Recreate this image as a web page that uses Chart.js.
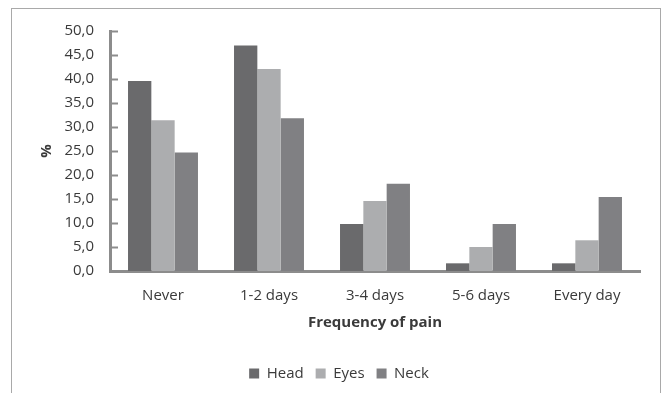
<!DOCTYPE html>
<html>
<head>
<meta charset="utf-8">
<script src="https://cdn.jsdelivr.net/npm/chart.js@4/dist/chart.umd.min.js"></script>
<style>
  html, body { margin: 0; padding: 0; background: #fff; overflow: hidden; }
  #frame {
    position: absolute; left: 11px; top: 8px; width: 648px; height: 420px;
    border: 1.5px solid #a9a9a9; border-bottom: none;
  }
  #wrap { position: absolute; left: 0; top: 0; width: 664px; height: 393px; }
</style>
</head>
<body>
<div id="frame"></div>
<div id="wrap"><canvas id="chart" width="664" height="393"></canvas></div>
<script>
// data
const categories = ['Never', '1-2 days', '3-4 days', '5-6 days', 'Every day'];
const head = [39.6, 47.0, 9.8, 1.6, 1.6];
const eyes = [31.4, 42.1, 14.6, 5.0, 6.4];
const neck = [24.7, 31.8, 18.2, 9.8, 15.4];
const yTicks = [0, 5, 10, 15, 20, 25, 30, 35, 40, 45, 50];

const axisColor = '#8c8c8c';
const textColor = '#3a3a3a';
const fontFamily = "'Open Sans', 'DejaVu Sans', sans-serif";

// small tick marks drawn inward from the y axis line
const innerTicks = {
  id: 'innerTicks',
  afterDraw(chart) {
    const c = chart.ctx, y = chart.scales.y, left = chart.chartArea.left;
    c.save();
    c.strokeStyle = axisColor;
    c.lineWidth = 2;
    yTicks.forEach(v => {
      const py = Math.round(y.getPixelForValue(v)) + 0.5;
      c.beginPath();
      c.moveTo(left, py);
      c.lineTo(left + 8, py);
      c.stroke();
    });
    c.restore();
  }
};

new Chart(document.getElementById('chart'), {
  type: 'bar',
  data: {
    labels: categories,
    datasets: [
      { label: 'Head', data: head, backgroundColor: '#6a6a6c' },
      { label: 'Eyes', data: eyes, backgroundColor: '#acadaf' },
      { label: 'Neck', data: neck, backgroundColor: '#808083' }
    ]
  },
  options: {
    responsive: false,
    animation: false,
    layout: { padding: { left: 38, right: 24, top: 31, bottom: 2 } },
    datasets: { bar: { barPercentage: 1.0, categoryPercentage: 0.66 } },
    plugins: {
      tooltip: { enabled: false },
      legend: {
        position: 'bottom',
        labels: {
          boxWidth: 10, boxHeight: 10, padding: 12,
          color: textColor,
          font: { family: fontFamily, size: 15 }
        }
      }
    },
    scales: {
      x: {
        grid: { display: false, drawTicks: false },
        border: { color: axisColor, width: 3 },
        ticks: { color: textColor, padding: 16, font: { family: fontFamily, size: 15 } },
        title: {
          display: true, text: 'Frequency of pain', color: textColor,
          font: { family: fontFamily, size: 15, weight: 'bold' },
          padding: { top: -7, bottom: 22 }
        }
      },
      y: {
        min: 0, max: 50,
        afterFit(scale) { scale.width = 72; },
        afterBuildTicks(scale) { scale.ticks = yTicks.map(v => ({ value: v })); },
        grid: { display: false, drawTicks: false },
        border: { color: axisColor, width: 3 },
        ticks: {
          color: textColor, padding: 16,
          font: { family: fontFamily, size: 15 },
          callback: v => v.toFixed(1).replace('.', ',')
        },
        title: {
          display: true, text: '%', color: textColor,
          font: { family: fontFamily, size: 15, weight: 'bold' },
          padding: { top: 0, bottom: 0 }
        }
      }
    }
  },
  plugins: [innerTicks]
});
</script>
</body>
</html>
